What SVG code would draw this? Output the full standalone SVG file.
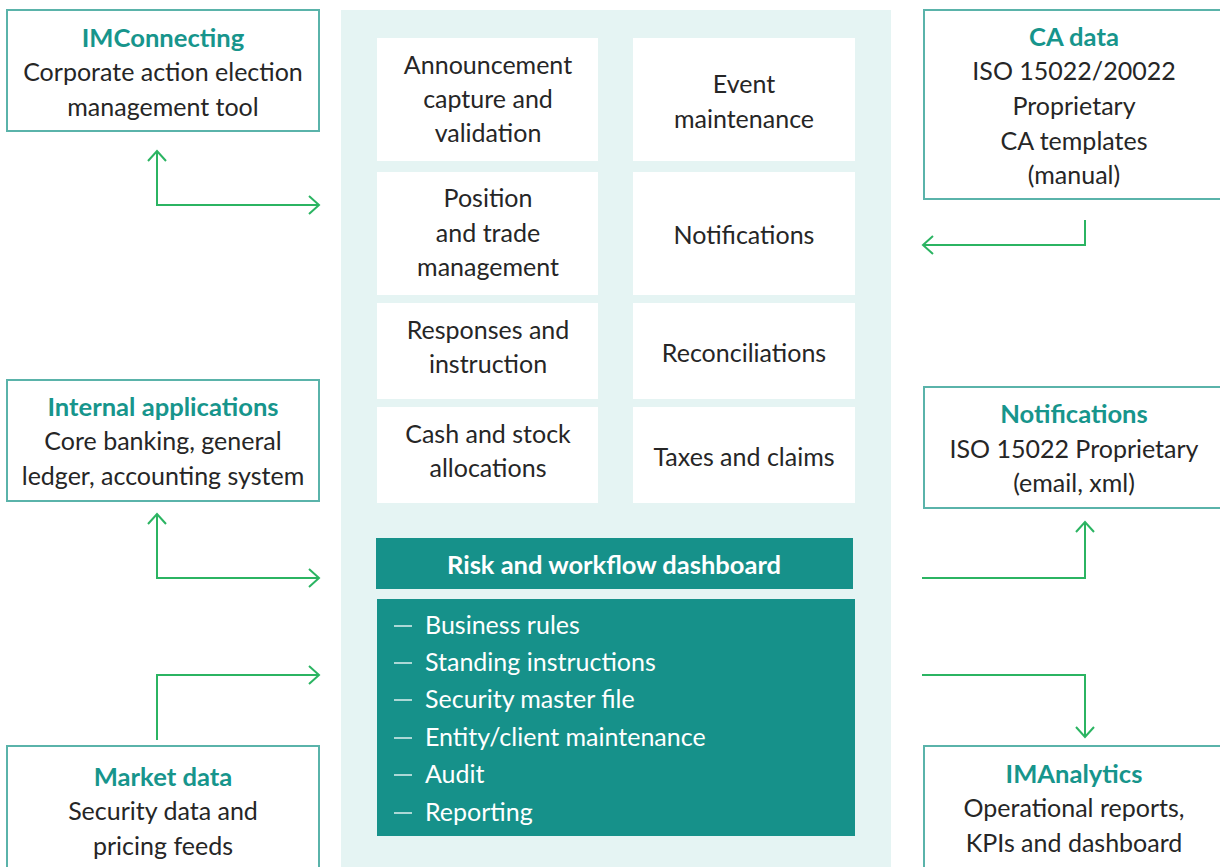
<svg xmlns="http://www.w3.org/2000/svg" width="1220" height="867" viewBox="0 0 1220 867">
<defs>
<style>
text{font-family:Lato,"Source Sans Pro","Open Sans",sans-serif;font-size:25px;fill:#262626;text-anchor:middle}
.t{font-weight:bold;fill:#17958c;font-size:25.6px}
.box{fill:#fff;stroke:#5ab3aa;stroke-width:2}
.cell{fill:#fff}
.w{fill:#fff}
.wb{fill:#fff;font-weight:bold;font-size:25.5px}
.li{fill:#fff;text-anchor:start}
.con{fill:none;stroke:#2bb462;stroke-width:2}
</style>
<marker id="ah" viewBox="0 0 20 20" refX="18" refY="10" markerWidth="20" markerHeight="20" markerUnits="userSpaceOnUse" orient="auto-start-reverse">
<path d="M8,1 L18,10 L8,19" fill="none" stroke="#2bb462" stroke-width="2"/>
</marker>
</defs>
<rect width="1220" height="867" fill="#fff"/>
<rect x="341" y="10" width="550" height="870" fill="#e5f4f3"/>

<g id="imconnecting">
<rect class="box" x="7" y="10" width="312" height="121"/>
<text class="t" x="163" y="47">IMConnecting</text>
<text x="163" y="81">Corporate action election</text>
<text x="163" y="116">management tool</text>
</g>
<g id="internal">
<rect class="box" x="7" y="380" width="312" height="121"/>
<text class="t" x="163" y="416">Internal applications</text>
<text x="163" y="450">Core banking, general</text>
<text x="163" y="485">ledger, accounting system</text>
</g>
<g id="market">
<rect class="box" x="7" y="746" width="312" height="140"/>
<text class="t" x="163" y="786">Market data</text>
<text x="163" y="820">Security data and</text>
<text x="163" y="855">pricing feeds</text>
</g>
<g id="cadata">
<rect class="box" x="924" y="10" width="310" height="189"/>
<text class="t" x="1074" y="46">CA data</text>
<text x="1074" y="80">ISO 15022/20022</text>
<text x="1074" y="115">Proprietary</text>
<text x="1074" y="150">CA templates</text>
<text x="1074" y="184">(manual)</text>
</g>
<g id="notif-out">
<rect class="box" x="924" y="387" width="310" height="121"/>
<text class="t" x="1074" y="423">Notifications</text>
<text x="1074" y="458">ISO 15022 Proprietary</text>
<text x="1074" y="492">(email, xml)</text>
</g>
<g id="imanalytics">
<rect class="box" x="924" y="746" width="310" height="140"/>
<text class="t" x="1074" y="783">IMAnalytics</text>
<text x="1074" y="817">Operational reports,</text>
<text x="1074" y="852">KPIs and dashboard</text>
</g>

<g id="announcement"><rect class="cell" x="377" y="38" width="221" height="123"/>
<text x="488" y="74">Announcement</text><text x="488" y="108">capture and</text><text x="488" y="142">validation</text></g>
<g id="event"><rect class="cell" x="633" y="38" width="222" height="123"/>
<text x="744" y="93">Event</text><text x="744" y="128">maintenance</text></g>
<g id="position"><rect class="cell" x="377" y="172" width="221" height="123"/>
<text x="488" y="207">Position</text><text x="488" y="242">and trade</text><text x="488" y="276">management</text></g>
<g id="notifications"><rect class="cell" x="633" y="172" width="222" height="123"/>
<text x="744" y="244">Notifications</text></g>
<g id="responses"><rect class="cell" x="377" y="303" width="221" height="96"/>
<text x="488" y="339">Responses and</text><text x="488" y="373">instruction</text></g>
<g id="reconciliations"><rect class="cell" x="633" y="303" width="222" height="96"/>
<text x="744" y="362">Reconciliations</text></g>
<g id="cash"><rect class="cell" x="377" y="407" width="221" height="96"/>
<text x="488" y="443">Cash and stock</text><text x="488" y="477">allocations</text></g>
<g id="taxes"><rect class="cell" x="633" y="407" width="222" height="96"/>
<text x="744" y="466">Taxes and claims</text></g>

<g id="dashboard">
<rect x="376" y="538" width="477" height="51" fill="#16918a"/>
<text class="wb" x="614" y="574">Risk and workflow dashboard</text>
</g>
<g id="list">
<rect x="377" y="599" width="478" height="237" fill="#16918a"/>
<g stroke="#fff" stroke-width="1.3">
<line x1="394" y1="626" x2="412" y2="626"/>
<line x1="394" y1="663" x2="412" y2="663"/>
<line x1="394" y1="700" x2="412" y2="700"/>
<line x1="394" y1="738" x2="412" y2="738"/>
<line x1="394" y1="775" x2="412" y2="775"/>
<line x1="394" y1="813" x2="412" y2="813"/>
</g>
<text class="li" x="425" y="634">Business rules</text>
<text class="li" x="425" y="671">Standing instructions</text>
<text class="li" x="425" y="708">Security master file</text>
<text class="li" x="425" y="746">Entity/client maintenance</text>
<text class="li" x="425" y="783">Audit</text>
<text class="li" x="425" y="821">Reporting</text>
</g>

<g id="connectors">
<path class="con" d="M157,151 V205 H319" marker-start="url(#ah)" marker-end="url(#ah)"/>
<path class="con" d="M1085,220 V245 H923" marker-end="url(#ah)"/>
<path class="con" d="M157,514 V578 H319" marker-start="url(#ah)" marker-end="url(#ah)"/>
<path class="con" d="M157,740 V675 H319" marker-end="url(#ah)"/>
<path class="con" d="M922,578 H1085 V522" marker-end="url(#ah)"/>
<path class="con" d="M922,675 H1085 V737" marker-end="url(#ah)"/>
</g>
</svg>
